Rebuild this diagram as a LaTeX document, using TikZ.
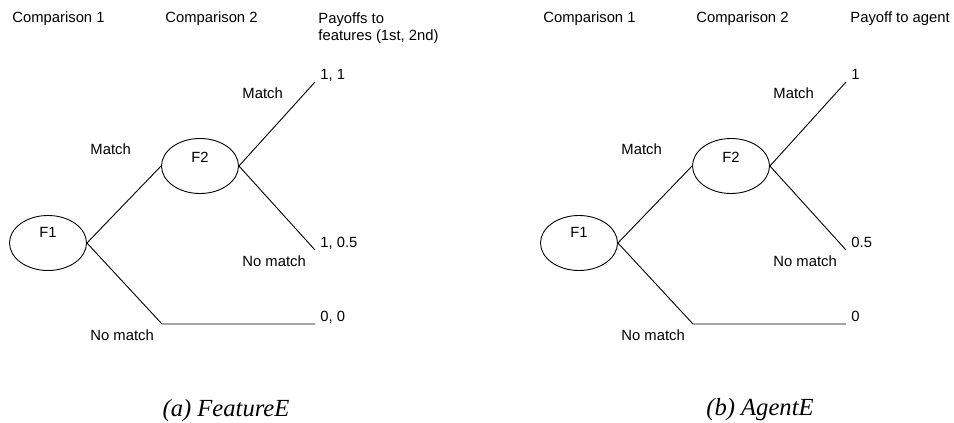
\documentclass[tikz,border=0pt]{standalone}
\usepackage{fontspec}
\setmainfont{Liberation Sans}
\newfontfamily\capfont{Liberation Serif}
\usetikzlibrary{positioning,shapes.geometric}

\begin{document}
\begin{tikzpicture}[
  x=1pt, y=-1pt, line width=0.9pt,
  every node/.style={font=\fontsize{14.8}{17}\selectfont, inner sep=0pt},
  player/.style={draw, ellipse, minimum width=77pt, minimum height=55pt},
  txt/.style={anchor=base west},
  pay/.style={anchor=base west, shift={(5,-3)}},
  caption/.style={font=\capfont\itshape\fontsize{24.6}{28}\selectfont}]

\useasboundingbox (0,0) rectangle (954,423);

% (a) payoffs to the features
\begin{scope}[name prefix=a-]
  \node[txt] (hd1) at (12,23) {Comparison 1};
  \node[txt] (hd2) at (165,23) {Comparison 2};
  \node[anchor=north west, align=left] (hd3) at (318,12) {Payoffs to\\features (1st, 2nd)};

  \node[player, label={[yshift=11pt]center:F1}] (F1) at (48,243) {};
  \node[player, label={[yshift=9pt]center:F2}] (F2) at (200,166) {};
  \coordinate (m) at (315,82);
  \coordinate (n) at (315,250);
  \coordinate (c) at (162,324);
  \coordinate (z) at (315,324);

  \draw (F1.east) -- (F2.west);
  \draw (F2.east) -- (m);
  \draw (F2.east) -- (n);
  \draw (F1.east) -- (c) -- (z);

  \node[pay] (p1) at (m) {1, 1};
  \node[pay] (p2) at (n) {1, 0.5};
  \node[pay] (p3) at (z) {0, 0};

  \node[txt] (lm2) at (242,98) {Match};
  \node[txt] (lm1) at (90,154) {Match};
  \node[txt] (ln2) at (242,266) {No match};
  \node[txt] (ln1) at (90,340) {No match};

  \node[caption] (cap) at (226,411) {(a) FeatureE};
\end{scope}

% (b) payoff to the agent
\begin{scope}[xshift=531pt, name prefix=b-]
  \node[txt] (hd1) at (12,23) {Comparison 1};
  \node[txt] (hd2) at (165,23) {Comparison 2};
  \node[txt] (hd3) at (319,23) {Payoff to agent};

  \node[player, label={[yshift=11pt]center:F1}] (F1) at (48,243) {};
  \node[player, label={[yshift=9pt]center:F2}] (F2) at (200,166) {};
  \coordinate (m) at (315,82);
  \coordinate (n) at (315,250);
  \coordinate (c) at (162,324);
  \coordinate (z) at (315,324);

  \draw (F1.east) -- (F2.west);
  \draw (F2.east) -- (m);
  \draw (F2.east) -- (n);
  \draw (F1.east) -- (c) -- (z);

  \node[pay] (p1) at (m) {1};
  \node[pay] (p2) at (n) {0.5};
  \node[pay] (p3) at (z) {0};

  \node[txt] (lm2) at (242,98) {Match};
  \node[txt] (lm1) at (90,154) {Match};
  \node[txt] (ln2) at (242,266) {No match};
  \node[txt] (ln1) at (90,340) {No match};

  \node[caption] (cap) at (229,410) {(b) AgentE};
\end{scope}

\end{tikzpicture}
\end{document}
